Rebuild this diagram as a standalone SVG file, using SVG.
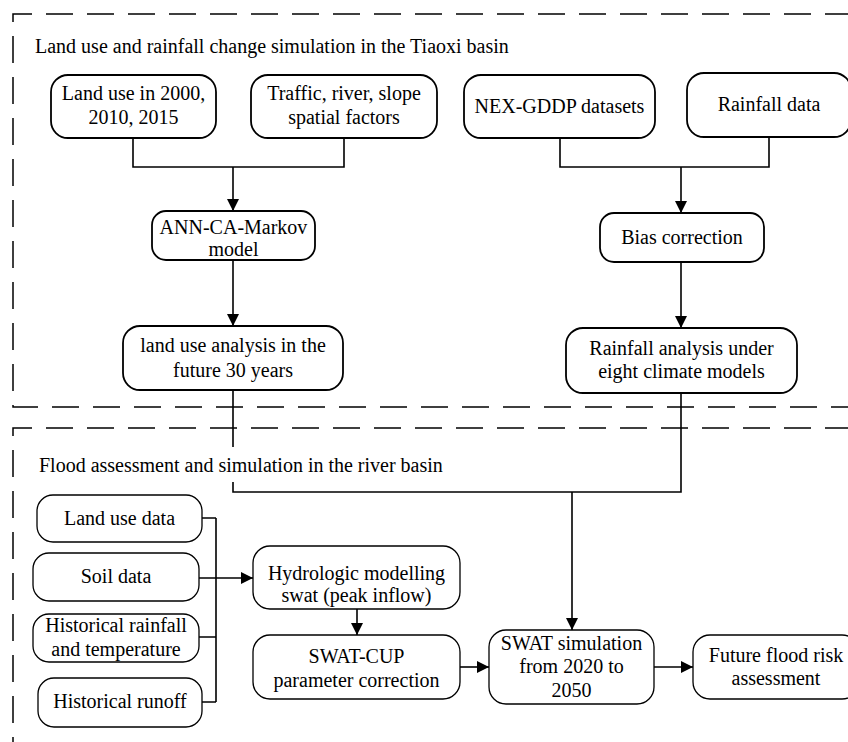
<svg xmlns="http://www.w3.org/2000/svg" width="848" height="742" viewBox="0 0 848 742" font-family="'Liberation Serif', 'Times New Roman', Tinos, 'DejaVu Serif', serif">
<style>
text{font-family:'Liberation Serif','Times New Roman',Tinos,'DejaVu Serif',serif;font-size:20px;fill:#000;text-anchor:middle}
text.title{text-anchor:start}
.box{fill:#fff;stroke:#000;stroke-width:1.8}
.box2{fill:#fff;stroke:#000;stroke-width:1.3}
.frame{fill:none;stroke:#000;stroke-width:1.5;stroke-dasharray:27 14}
.conn{fill:none;stroke:#000;stroke-width:1.6}
</style>
<defs>
<marker id="arr" markerUnits="userSpaceOnUse" markerWidth="12" markerHeight="12" viewBox="0 0 12 12" refX="12" refY="6" orient="auto">
<path d="M0,0 L12,6 L0,12 Z" fill="#000"/>
</marker>
</defs>
<rect width="848" height="742" fill="#fff"/>
<g id="frames">
<path class="frame" d="M852,14 H13 V407 H852"/>
<path class="frame" d="M852,428 H13 V746"/>
<text class="title" x="35" y="53">Land use and rainfall change simulation in the Tiaoxi basin</text>
<text class="title" x="39" y="472">Flood assessment and simulation in the river basin</text>
</g>
<g id="connectors">
<path class="conn" d="M133,138 V167 H344 V138"/>
<path class="conn" d="M233,167 V211" marker-end="url(#arr)"/>
<path class="conn" d="M560,138 V167 H769 V137"/>
<path class="conn" d="M681,167 V213" marker-end="url(#arr)"/>
<path class="conn" d="M233,260 V326" marker-end="url(#arr)"/>
<path class="conn" d="M681,262 V328" marker-end="url(#arr)"/>
<path class="conn" d="M233,390 V447 M233,482 V492 H681 V393"/>
<path class="conn" d="M572,492 V630" marker-end="url(#arr)"/>
<path class="conn" d="M202,518 H216 M199,637 H216 M202,702 H216 M216,518 V702 M199,578 H216"/>
<path class="conn" d="M216,578 H253" marker-end="url(#arr)"/>
<path class="conn" d="M357,609 V635" marker-end="url(#arr)"/>
<path class="conn" d="M460,667 H489" marker-end="url(#arr)"/>
<path class="conn" d="M654,667 H693" marker-end="url(#arr)"/>
</g>
<g id="n_landuse"><rect class="box" x="51" y="75" width="165" height="63" rx="17"/><text x="133.5" y="100">Land use in 2000,</text><text x="133.5" y="124">2010, 2015</text></g>
<g id="n_traffic"><rect class="box" x="251" y="75" width="186" height="63" rx="17"/><text x="344" y="100">Traffic, river, slope</text><text x="344" y="124">spatial factors</text></g>
<g id="n_nex"><rect class="box" x="464" y="75" width="191" height="63" rx="17"/><text x="559.5" y="113">NEX-GDDP datasets</text></g>
<g id="n_rainfall"><rect class="box" x="687" y="73" width="164" height="64" rx="17"/><text x="769" y="111">Rainfall data</text></g>
<g id="n_ann"><rect class="box" x="152" y="211" width="163" height="49" rx="14"/><text x="233.5" y="234">ANN-CA-Markov</text><text x="233.5" y="256">model</text></g>
<g id="n_bias"><rect class="box" x="600" y="213" width="164" height="49" rx="14"/><text x="682" y="244">Bias correction</text></g>
<g id="n_lu_future"><rect class="box" x="123" y="326" width="220" height="64" rx="17"/><text x="233" y="352">land use analysis in the</text><text x="233" y="377">future 30 years</text></g>
<g id="n_rain_analysis"><rect class="box" x="566" y="328" width="231" height="65" rx="17"/><text x="681.5" y="355">Rainfall analysis under</text><text x="681.5" y="378">eight climate models</text></g>
<g id="n_lud"><rect class="box2" x="37" y="495" width="165" height="47" rx="16"/><text x="119.5" y="525">Land use data</text></g>
<g id="n_soil"><rect class="box2" x="33" y="553" width="166" height="48" rx="16"/><text x="116" y="583">Soil data</text></g>
<g id="n_hist_rain"><rect class="box2" x="33" y="614" width="166" height="48" rx="16"/><text x="116" y="632">Historical rainfall</text><text x="116" y="656">and temperature</text></g>
<g id="n_runoff"><rect class="box2" x="38" y="678" width="164" height="49" rx="16"/><text x="120" y="708">Historical runoff</text></g>
<g id="n_hydro"><rect class="box2" x="253" y="546" width="207" height="63" rx="17"/><text x="356.5" y="580">Hydrologic modelling</text><text x="356.5" y="602">swat (peak inflow)</text></g>
<g id="n_swatcup"><rect class="box2" x="253" y="635" width="207" height="64" rx="17"/><text x="356.5" y="663">SWAT-CUP</text><text x="356.5" y="687">parameter correction</text></g>
<g id="n_swatsim"><rect class="box2" x="489" y="630" width="165" height="74" rx="17"/><text x="571.5" y="650">SWAT simulation</text><text x="571.5" y="673">from 2020 to</text><text x="571.5" y="697">2050</text></g>
<g id="n_future"><rect class="box2" x="693" y="635" width="166" height="64" rx="17"/><text x="776" y="662">Future flood risk</text><text x="776" y="685">assessment</text></g>
</svg>
